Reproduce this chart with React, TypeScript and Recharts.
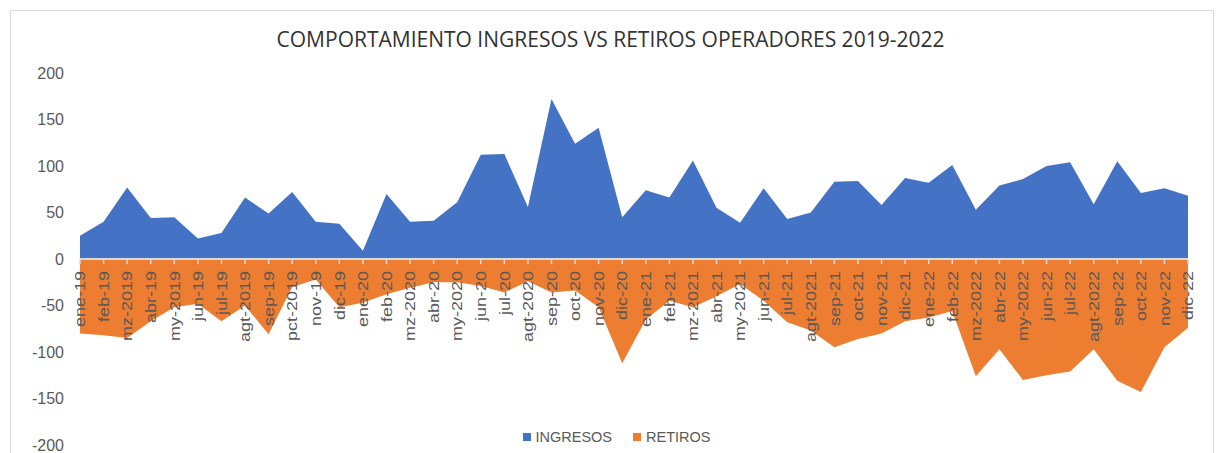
import { Area, AreaChart, Legend, ReferenceLine, XAxis, YAxis } from "recharts";

const months = [
  "ene-19", "feb-19", "mz-2019", "abr-19", "my-2019", "jun-19", "jul-19", "agt-2019", "sep-19", "pct-2019", "nov-19", "dic-19",
  "ene-20", "feb-20", "mz-2020", "abr-20", "my-2020", "jun-20", "jul-20", "agt-2020", "sep-20", "oct-20", "nov-20", "dic-20",
  "ene-21", "feb-21", "mz-2021", "abr-21", "my-2021", "jun-21", "jul-21", "agt-2021", "sep-21", "oct-21", "nov-21", "dic-21",
  "ene-22", "feb-22", "mz-2022", "abr-22", "my-2022", "jun-22", "jul-22", "agt-2022", "sep-22", "oct-22", "nov-22", "dic-22"
];

const ingresos = [
  25, 40, 77, 44, 45, 22, 28, 66, 49, 72, 40, 38,
  9, 70, 40, 41, 61, 112, 113, 56, 172, 124, 141, 45,
  74, 66, 106, 55, 39, 76, 43, 50, 83, 84, 58, 87,
  82, 101, 53, 79, 86, 100, 104, 59, 105, 71, 76, 68
];

const retiros = [
  -80, -82, -85, -67, -52, -48, -67, -50, -81, -30, -22, -52,
  -47, -38, -31, -25, -25, -29, -36, -24, -36, -34, -52, -112,
  -65, -45, -52, -40, -27, -45, -68, -77, -95, -86, -80, -67,
  -63, -56, -126, -97, -130, -125, -121, -97, -131, -143, -95, -74
];

const yTicks = [-200, -150, -100, -50, 0, 50, 100, 150, 200];

const series = [
  { key: "ingresos", name: "INGRESOS", color: "#4472C4" },
  { key: "retiros", name: "RETIROS", color: "#ED7D31" }
];

const data = months.map((month, i) => ({
  month,
  ingresos: ingresos[i],
  retiros: retiros[i]
}));

const W = 1217;
const H = 453;
const margin = { top: 73, right: 29, bottom: 7, left: 10 };
const X_AXIS_H = 1;
const plotH = H - margin.top - margin.bottom - X_AXIS_H;
const zeroY = margin.top + plotH / 2;
const grey = "#595959";
const font = "'Liberation Sans', Arial, sans-serif";

function MonthTick(props: any) {
  const { x, payload } = props;
  return (
    <g>
      <line x1={x} x2={x} y1={zeroY} y2={zeroY + 5} stroke="#d9d9d9" strokeWidth={1.5} />
      <text
        transform={`translate(${x}, ${zeroY + 12}) rotate(-90) scale(1.2, 1)`}
        textAnchor="end"
        dy="0.35em"
        fill={grey}
        fontSize={15}
        fontFamily={font}
      >
        {payload.value}
      </text>
    </g>
  );
}

function ChartLegend() {
  return (
    <div
      style={{
        display: "flex",
        justifyContent: "center",
        gap: 21,
        paddingLeft: 16,
        fontFamily: font,
        fontSize: 14.5,
        color: grey
      }}
    >
      {series.map((s) => (
        <span key={s.key} style={{ display: "flex", alignItems: "center", gap: 5 }}>
          <span style={{ width: 8, height: 8, background: s.color, display: "inline-block" }} />
          {s.name}
        </span>
      ))}
    </div>
  );
}

export default function App() {
  return (
    <div style={{ position: "absolute", left: 0, top: 0, width: W, height: H, overflow: "hidden", background: "#fff" }}>
      <div
        style={{
          position: "absolute",
          left: 10,
          top: 10,
          width: 1204,
          height: 520,
          border: "1px solid #d9d9d9",
          boxSizing: "border-box"
        }}
      />
      <div
        style={{
          position: "absolute",
          left: 0,
          top: 25,
          width: W,
          paddingLeft: 4,
          boxSizing: "border-box",
          textAlign: "center",
          fontFamily: "'Open Sans', sans-serif",
          fontSize: 21,
          color: "#333333"
        }}
      >
        COMPORTAMIENTO INGRESOS VS RETIROS OPERADORES 2019-2022
      </div>
      <div style={{ position: "absolute", left: 0, top: 0 }}>
        <AreaChart width={W} height={H} data={data} margin={margin}>
          <XAxis
            dataKey="month"
            height={X_AXIS_H}
            interval={0}
            axisLine={false}
            tickLine={false}
            tick={<MonthTick />}
          />
          <YAxis
            width={70}
            domain={[-200, 200]}
            ticks={yTicks}
            interval={0}
            axisLine={false}
            tickLine={false}
            tickSize={0}
            tickMargin={16}
            tick={{ fill: grey, fontSize: 16, fontFamily: font }}
          />
          {series.map((s) => (
            <Area
              key={s.key}
              type="linear"
              dataKey={s.key}
              name={s.name}
              baseValue={0}
              fill={s.color}
              fillOpacity={1}
              stroke="none"
              isAnimationActive={false}
            />
          ))}
          <ReferenceLine y={0} stroke="#d9d9d9" strokeWidth={2} />
          <Legend
            layout="horizontal"
            verticalAlign="middle"
            align="center"
            wrapperStyle={{ top: 429, left: 0, width: W }}
            content={<ChartLegend />}
          />
        </AreaChart>
      </div>
    </div>
  );
}
